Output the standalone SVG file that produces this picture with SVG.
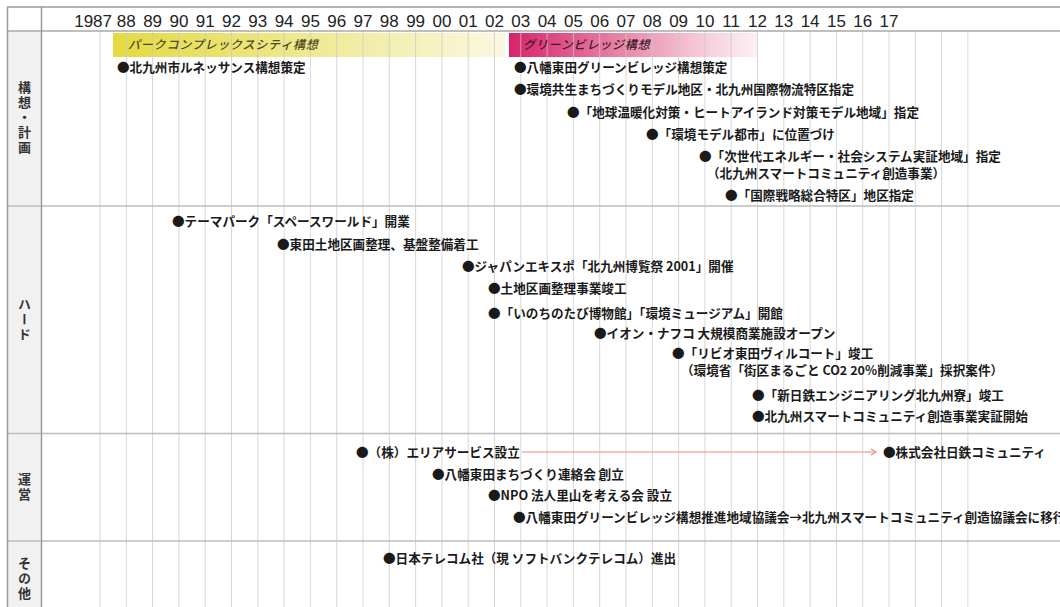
<svg xmlns="http://www.w3.org/2000/svg" width="1060" height="607" viewBox="0 0 1060 607">
<defs>
<linearGradient id="gY" x1="0" y1="0" x2="1" y2="0">
<stop offset="0" stop-color="#e4da40"/>
<stop offset="0.45" stop-color="#eee78a"/>
<stop offset="1" stop-color="#faf8e0"/>
</linearGradient>
<linearGradient id="gP" x1="0" y1="0" x2="1" y2="0">
<stop offset="0" stop-color="#d8226a"/>
<stop offset="0.4" stop-color="#e57aa1"/>
<stop offset="0.75" stop-color="#f4c6d6"/>
<stop offset="1" stop-color="#fdf0f4"/>
</linearGradient>
<marker id="chev" markerWidth="8" markerHeight="8" refX="6" refY="4" orient="auto" markerUnits="userSpaceOnUse">
<path d="M1,1 L6,4 L1,7" fill="none" stroke="#ee8a80" stroke-width="1.2"/>
</marker>
<style>
.yr{font-family:"Liberation Sans",Arial,sans-serif;font-size:17px;fill:#222;text-anchor:middle}
.ev{font-family:"Noto Sans CJK JP",sans-serif;font-size:12.6px;font-weight:700;fill:#1a1a1a}
.bar{font-family:"Noto Sans CJK JP",sans-serif;font-size:12px;font-style:italic;font-weight:500}
.lab{font-family:"Noto Sans CJK JP",sans-serif;font-size:13px;font-weight:700;fill:#333;writing-mode:vertical-rl;text-anchor:middle;letter-spacing:2px}
.grid{stroke:#c9c9c9;stroke-width:1;fill:none}
.sep{stroke:#bdbdbd;stroke-width:1.5;fill:none}
</style>
</defs>
<rect x="0" y="0" width="1060" height="607" fill="#ffffff"/>
<g id="table">
<rect x="7.5" y="31" width="34" height="580" fill="#f1f1f1"/>
<rect id="bar-park" x="113" y="33" width="392" height="24" fill="url(#gY)"/>
<rect id="bar-green" x="509" y="33" width="248" height="24" fill="url(#gP)"/>
<path class="grid" opacity="0.75" d="M100,31V607M126.3,31V607M152.6,31V607M178.9,31V607M205.2,31V607M231.5,31V607M257.8,31V607M284.1,31V607M310.4,31V607M336.7,31V607M363,31V607M389.3,31V607M415.6,31V607M441.9,31V607M468.2,31V607M494.5,31V607M520.8,31V607M547.1,31V607M573.4,31V607M599.7,31V607M626,31V607M652.3,31V607M678.6,31V607M704.9,31V607M731.2,31V607M757.5,31V607M783.8,31V607M810.1,31V607M836.4,31V607M862.7,31V607M889,31V607M915.3,31V607M941.6,31V607M967.9,31V607"/>
<path d="M7,7H1060" stroke="#9a9a9a" stroke-width="1.5"/>
<path d="M7,31H1060" stroke="#a8a8a8" stroke-width="1.5"/>
<path class="sep" d="M7,206H1060M7,433.5H1060M7,541H1060"/>
<path d="M7.5,7V607M41.5,7V607" stroke="#9a9a9a" stroke-width="1.5"/>
</g>
<g id="years">
<text class="yr" x="112" y="26.5" style="text-anchor:end">1987</text>
<text class="yr" x="126.3" y="26.5">88</text>
<text class="yr" x="152.6" y="26.5">89</text>
<text class="yr" x="178.9" y="26.5">90</text>
<text class="yr" x="205.2" y="26.5">91</text>
<text class="yr" x="231.5" y="26.5">92</text>
<text class="yr" x="257.8" y="26.5">93</text>
<text class="yr" x="284.1" y="26.5">94</text>
<text class="yr" x="310.4" y="26.5">95</text>
<text class="yr" x="336.7" y="26.5">96</text>
<text class="yr" x="363" y="26.5">97</text>
<text class="yr" x="389.3" y="26.5">98</text>
<text class="yr" x="415.6" y="26.5">99</text>
<text class="yr" x="441.9" y="26.5">00</text>
<text class="yr" x="468.2" y="26.5">01</text>
<text class="yr" x="494.5" y="26.5">02</text>
<text class="yr" x="520.8" y="26.5">03</text>
<text class="yr" x="547.1" y="26.5">04</text>
<text class="yr" x="573.4" y="26.5">05</text>
<text class="yr" x="599.7" y="26.5">06</text>
<text class="yr" x="626" y="26.5">07</text>
<text class="yr" x="652.3" y="26.5">08</text>
<text class="yr" x="678.6" y="26.5">09</text>
<text class="yr" x="704.9" y="26.5">10</text>
<text class="yr" x="731.2" y="26.5">11</text>
<text class="yr" x="757.5" y="26.5">12</text>
<text class="yr" x="783.8" y="26.5">13</text>
<text class="yr" x="810.1" y="26.5">14</text>
<text class="yr" x="836.4" y="26.5">15</text>
<text class="yr" x="862.7" y="26.5">16</text>
<text class="yr" x="889" y="26.5">17</text>
</g>
<g id="row-labels">
<text class="lab" x="24.5" y="118">構想・計画</text>
<text class="lab" x="24.5" y="320">ハード</text>
<text class="lab" x="24.5" y="488">運営</text>
<text class="lab" x="24.5" y="579">その他</text>
</g>
<g id="bar-labels">
<text class="bar" x="128" y="49" fill="#4d4a1e" letter-spacing="0.8">パークコンプレックスシティ構想</text>
<text class="bar" x="523" y="49" fill="#3f1a2a" letter-spacing="0.8">グリーンビレッジ構想</text>
</g>
<g id="connectors">
<path d="M522,452H876" stroke="#ee8a80" stroke-width="1.2" fill="none" marker-end="url(#chev)"/>
</g>
<g id="ev1"><text class="ev" x="117" y="71.5">●北九州市ルネッサンス構想策定</text></g>
<g id="ev2"><text class="ev" x="514" y="71.5">●八幡東田グリーンビレッジ構想策定</text></g>
<g id="ev3"><text class="ev" x="514" y="93.5">●環境共生まちづくりモデル地区・北九州国際物流特区指定</text></g>
<g id="ev4"><text class="ev" x="567" y="116.5">●「地球温暖化対策・ヒートアイランド対策モデル地域」指定</text></g>
<g id="ev5"><text class="ev" x="646" y="138.5">●「環境モデル都市」に位置づけ</text></g>
<g id="ev6"><text class="ev" x="699" y="160.5">●「次世代エネルギー・社会システム実証地域」指定</text>
<text class="ev" x="707" y="177.5">（北九州スマートコミュニティ創造事業）</text></g>
<g id="ev7"><text class="ev" x="725" y="199.5">●「国際戦略総合特区」地区指定</text></g>
<g id="ev8"><text class="ev" x="172" y="225.5">●テーマパーク「スペースワールド」開業</text></g>
<g id="ev9"><text class="ev" x="277" y="248.5">●東田土地区画整理、基盤整備着工</text></g>
<g id="ev10"><text class="ev" x="462" y="270.5">●ジャパンエキスポ「北九州博覧祭 2001」開催</text></g>
<g id="ev11"><text class="ev" x="488" y="292.5">●土地区画整理事業竣工</text></g>
<g id="ev12"><text class="ev" x="488" y="317.5">●「いのちのたび博物館」「環境ミュージアム」開館</text></g>
<g id="ev13"><text class="ev" x="594" y="337.5">●イオン・ナフコ 大規模商業施設オープン</text></g>
<g id="ev14"><text class="ev" x="672" y="357.5">●「リビオ東田ヴィルコート」竣工</text>
<text class="ev" x="681" y="374.5">（環境省「街区まるごと CO2 20%削減事業」採択案件）</text></g>
<g id="ev15"><text class="ev" x="752" y="399.5">●「新日鉄エンジニアリング北九州寮」竣工</text></g>
<g id="ev16"><text class="ev" x="752" y="420.5">●北九州スマートコミュニティ創造事業実証開始</text></g>
<g id="ev17"><text class="ev" x="356" y="456.5">●（株）エリアサービス設立</text></g>
<g id="ev18"><text class="ev" x="883" y="456.5">●株式会社日鉄コミュニティ</text></g>
<g id="ev19"><text class="ev" x="432" y="478.5">●八幡東田まちづくり連絡会 創立</text></g>
<g id="ev20"><text class="ev" x="488" y="499.5">●NPO 法人里山を考える会 設立</text></g>
<g id="ev21"><text class="ev" x="513" y="521.5">●八幡東田グリーンビレッジ構想推進地域協議会→北九州スマートコミュニティ創造協議会に移行</text></g>
<g id="ev22"><text class="ev" x="383" y="562.5">●日本テレコム社（現 ソフトバンクテレコム）進出</text></g>
</svg>
